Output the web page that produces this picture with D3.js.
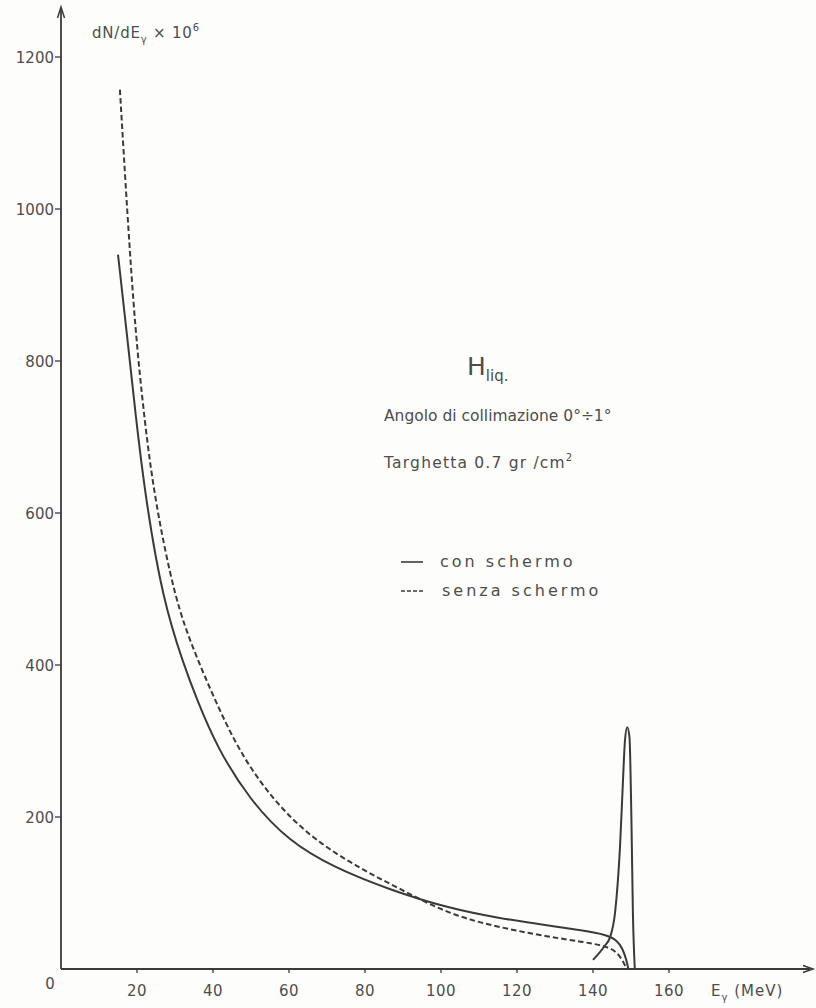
<!DOCTYPE html>
<html>
<head>
<meta charset="utf-8">
<script src="https://cdn.jsdelivr.net/npm/d3@7/dist/d3.min.js"></script>
<style>
  html, body { margin: 0; padding: 0; background: #fdfdfb; }
  svg { display: block; }
  text { font-family: "DejaVu Sans", "Liberation Sans", sans-serif; fill: #4d4d4d; }
</style>
</head>
<body>
<svg id="chart" width="816" height="1008"></svg>
<script>
// Photon spectrum dN/dE (x 10^6) for a liquid-hydrogen target, 0°–1° collimation

const xTicks = [20, 40, 60, 80, 100, 120, 140, 160];
const yTicks = [200, 400, 600, 800, 1000, 1200];

// "con schermo" (with shield): continuum
const conSchermoE = [15, 17.2, 19.6, 22.3, 26.8, 32.3, 35.8, 41, 49.7, 60, 71.6, 86.6, 102, 115, 128.7, 137, 143.7, 146.3, 147.8, 148.8, 149.3];
const conSchermoV = [940, 842, 730, 617, 486, 400, 354, 292, 222, 168, 134, 104, 80, 67, 57, 51, 45, 38, 27, 12, 0];

// "con schermo": narrow line near the end point
const piccoE = [140, 143, 144.5, 145.8, 147.1, 147.9, 148.4, 149, 149.6, 150.1, 150.5, 151];
const piccoV = [12, 30, 42, 74, 160, 249, 300, 318, 305, 200, 74, 0];

// "senza schermo" (without shield)
const senzaSchermoE = [15.5, 17.5, 19.5, 22, 24.7, 30, 35, 40.5, 47, 55.8, 66, 78, 89, 102, 115, 128.7, 137, 143.7, 146.3, 148, 148.8];
const senzaSchermoV = [1157, 990, 842, 720, 617, 486, 418, 354, 285, 222, 172, 134, 106, 72, 55, 42, 36, 30, 22, 10, 0];

const svg = d3.select("#chart");
const ink = "#3a3a3a";

const x = d3.scaleLinear().domain([0, 160]).range([61, 669]);
const y = d3.scaleLinear().domain([0, 1200]).range([969, 57]);

// axes lines with arrows
const x0 = x(0), y0 = y(0);
svg.append("line").attr("x1", x0).attr("y1", y0).attr("x2", 810).attr("y2", y0)
  .attr("stroke", ink).attr("stroke-width", 1.8);
svg.append("line").attr("x1", x0).attr("y1", y0).attr("x2", x0).attr("y2", 10)
  .attr("stroke", ink).attr("stroke-width", 1.8);
svg.append("path").attr("d", `M${x0 - 3.5},${18} L${x0},${7} L${x0 + 3.5},${18}`)
  .attr("fill", "none").attr("stroke", ink).attr("stroke-width", 1.5);
svg.append("path").attr("d", `M${803},${y0 - 3.5} L${813},${y0} L${803},${y0 + 3.5}`)
  .attr("fill", "none").attr("stroke", ink).attr("stroke-width", 1.5);

// x ticks
const xAxis = svg.append("g");
xAxis.selectAll("line").data(xTicks).join("line")
  .attr("x1", d => x(d)).attr("x2", d => x(d))
  .attr("y1", y0).attr("y2", y0 + 4)
  .attr("stroke", ink).attr("stroke-width", 1.3);
xAxis.selectAll("text").data(xTicks).join("text")
  .attr("x", d => x(d)).attr("y", 996)
  .attr("text-anchor", "middle").attr("font-size", 15)
  .attr("letter-spacing", 0.5)
  .text(d => d);
svg.append("text").attr("x", 50).attr("y", 989).attr("font-size", 15)
  .attr("text-anchor", "middle").text("0");

// y ticks
const yAxis = svg.append("g");
yAxis.selectAll("line").data(yTicks).join("line")
  .attr("x1", x0 - 6).attr("x2", x0)
  .attr("y1", d => y(d)).attr("y2", d => y(d))
  .attr("stroke", ink).attr("stroke-width", 1.3);
yAxis.selectAll("text").data(yTicks).join("text")
  .attr("x", x0 - 7).attr("y", d => y(d) + 5.5)
  .attr("text-anchor", "end").attr("font-size", 15)
  .text(d => d);

// axis titles
const yt = svg.append("text").attr("x", 92).attr("y", 38).attr("font-size", 15)
  .attr("letter-spacing", 0.8);
yt.append("tspan").text("dN/dE");
yt.append("tspan").attr("font-size", 10).attr("dy", 5).text("γ");
yt.append("tspan").attr("dy", -5).text(" × 10");
yt.append("tspan").attr("font-size", 10).attr("dy", -7).text("6");

const xt = svg.append("text").attr("x", 711).attr("y", 996).attr("font-size", 15)
  .attr("letter-spacing", 1);
xt.append("tspan").text("E");
xt.append("tspan").attr("font-size", 10).attr("dy", 5).text("γ");
xt.append("tspan").attr("dy", -5).text(" (MeV)");

// curves: smooth B-spline through the read-off points, sharp peak kept monotone
const smooth = d3.line().x(d => x(d[0])).y(d => y(d[1])).curve(d3.curveBasis);
const sharp = d3.line().x(d => x(d[0])).y(d => y(d[1])).curve(d3.curveMonotoneX);
const zip = (a, b) => a.map((v, i) => [v, b[i]]);

svg.append("path").datum(zip(conSchermoE, conSchermoV)).attr("d", smooth)
  .attr("fill", "none").attr("stroke", ink).attr("stroke-width", 2);
svg.append("path").datum(zip(piccoE, piccoV)).attr("d", sharp)
  .attr("fill", "none").attr("stroke", ink).attr("stroke-width", 2);
svg.append("path").datum(zip(senzaSchermoE, senzaSchermoV)).attr("d", smooth)
  .attr("fill", "none").attr("stroke", ink).attr("stroke-width", 2)
  .attr("stroke-dasharray", "5.5,3");

// annotations
const h = svg.append("text").attr("x", 467).attr("y", 375).attr("font-size", 25);
h.append("tspan").text("H");
h.append("tspan").attr("font-size", 15).attr("dy", 6).text("liq.");

svg.append("text").attr("x", 384).attr("y", 421).attr("font-size", 15.5)
  .text("Angolo di collimazione 0°÷1°");
const tg = svg.append("text").attr("x", 384).attr("y", 468).attr("font-size", 15.5)
  .attr("letter-spacing", 1.2);
tg.append("tspan").text("Targhetta 0.7 gr /cm");
tg.append("tspan").attr("font-size", 10).attr("dy", -7).text("2");

// legend
svg.append("line").attr("x1", 401).attr("x2", 423).attr("y1", 562).attr("y2", 562)
  .attr("stroke", ink).attr("stroke-width", 1.6);
svg.append("line").attr("x1", 401).attr("x2", 423).attr("y1", 591).attr("y2", 591)
  .attr("stroke", ink).attr("stroke-width", 1.6).attr("stroke-dasharray", "4,2");
svg.append("text").attr("x", 440).attr("y", 567).attr("font-size", 16)
  .attr("letter-spacing", 3).text("con schermo");
svg.append("text").attr("x", 442).attr("y", 596).attr("font-size", 16)
  .attr("letter-spacing", 3).text("senza  schermo");
</script>
</body>
</html>
